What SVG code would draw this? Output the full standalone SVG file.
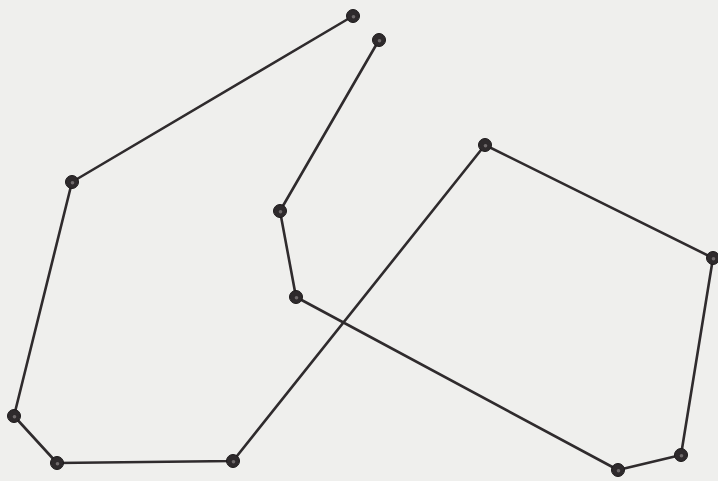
<svg xmlns="http://www.w3.org/2000/svg" width="718" height="481" viewBox="0 0 718 481">
<defs>
<style>
.edge{fill:none;stroke:#2f2b2d;stroke-width:2.6;stroke-linecap:round;stroke-linejoin:round}
.dot{fill:#2e2a2c;stroke:#1c191a;stroke-width:1}
.hl{fill:#6f6a6b}
</style>
<g id="pt"><circle class="dot" r="6.5"/><circle class="hl" cx="0.5" cy="0.8" r="1.8"/></g>
</defs>
<rect width="718" height="481" fill="#efefed"/>
<g id="connectors">
<polyline class="edge" points="353,16 72,182 14,416 57,463 233,461 485,145 713,258 681,455 618,470 296,297 280,211 379,40"/>
</g>
<g id="n1"><use href="#pt" x="353" y="16"/></g>
<g id="n2"><use href="#pt" x="72" y="182"/></g>
<g id="n3"><use href="#pt" x="14" y="416"/></g>
<g id="n4"><use href="#pt" x="57" y="463"/></g>
<g id="n5"><use href="#pt" x="233" y="461"/></g>
<g id="n6"><use href="#pt" x="485" y="145"/></g>
<g id="n7"><use href="#pt" x="713" y="258"/></g>
<g id="n8"><use href="#pt" x="681" y="455"/></g>
<g id="n9"><use href="#pt" x="618" y="470"/></g>
<g id="n10"><use href="#pt" x="296" y="297"/></g>
<g id="n11"><use href="#pt" x="280" y="211"/></g>
<g id="n12"><use href="#pt" x="379" y="40"/></g>
</svg>
